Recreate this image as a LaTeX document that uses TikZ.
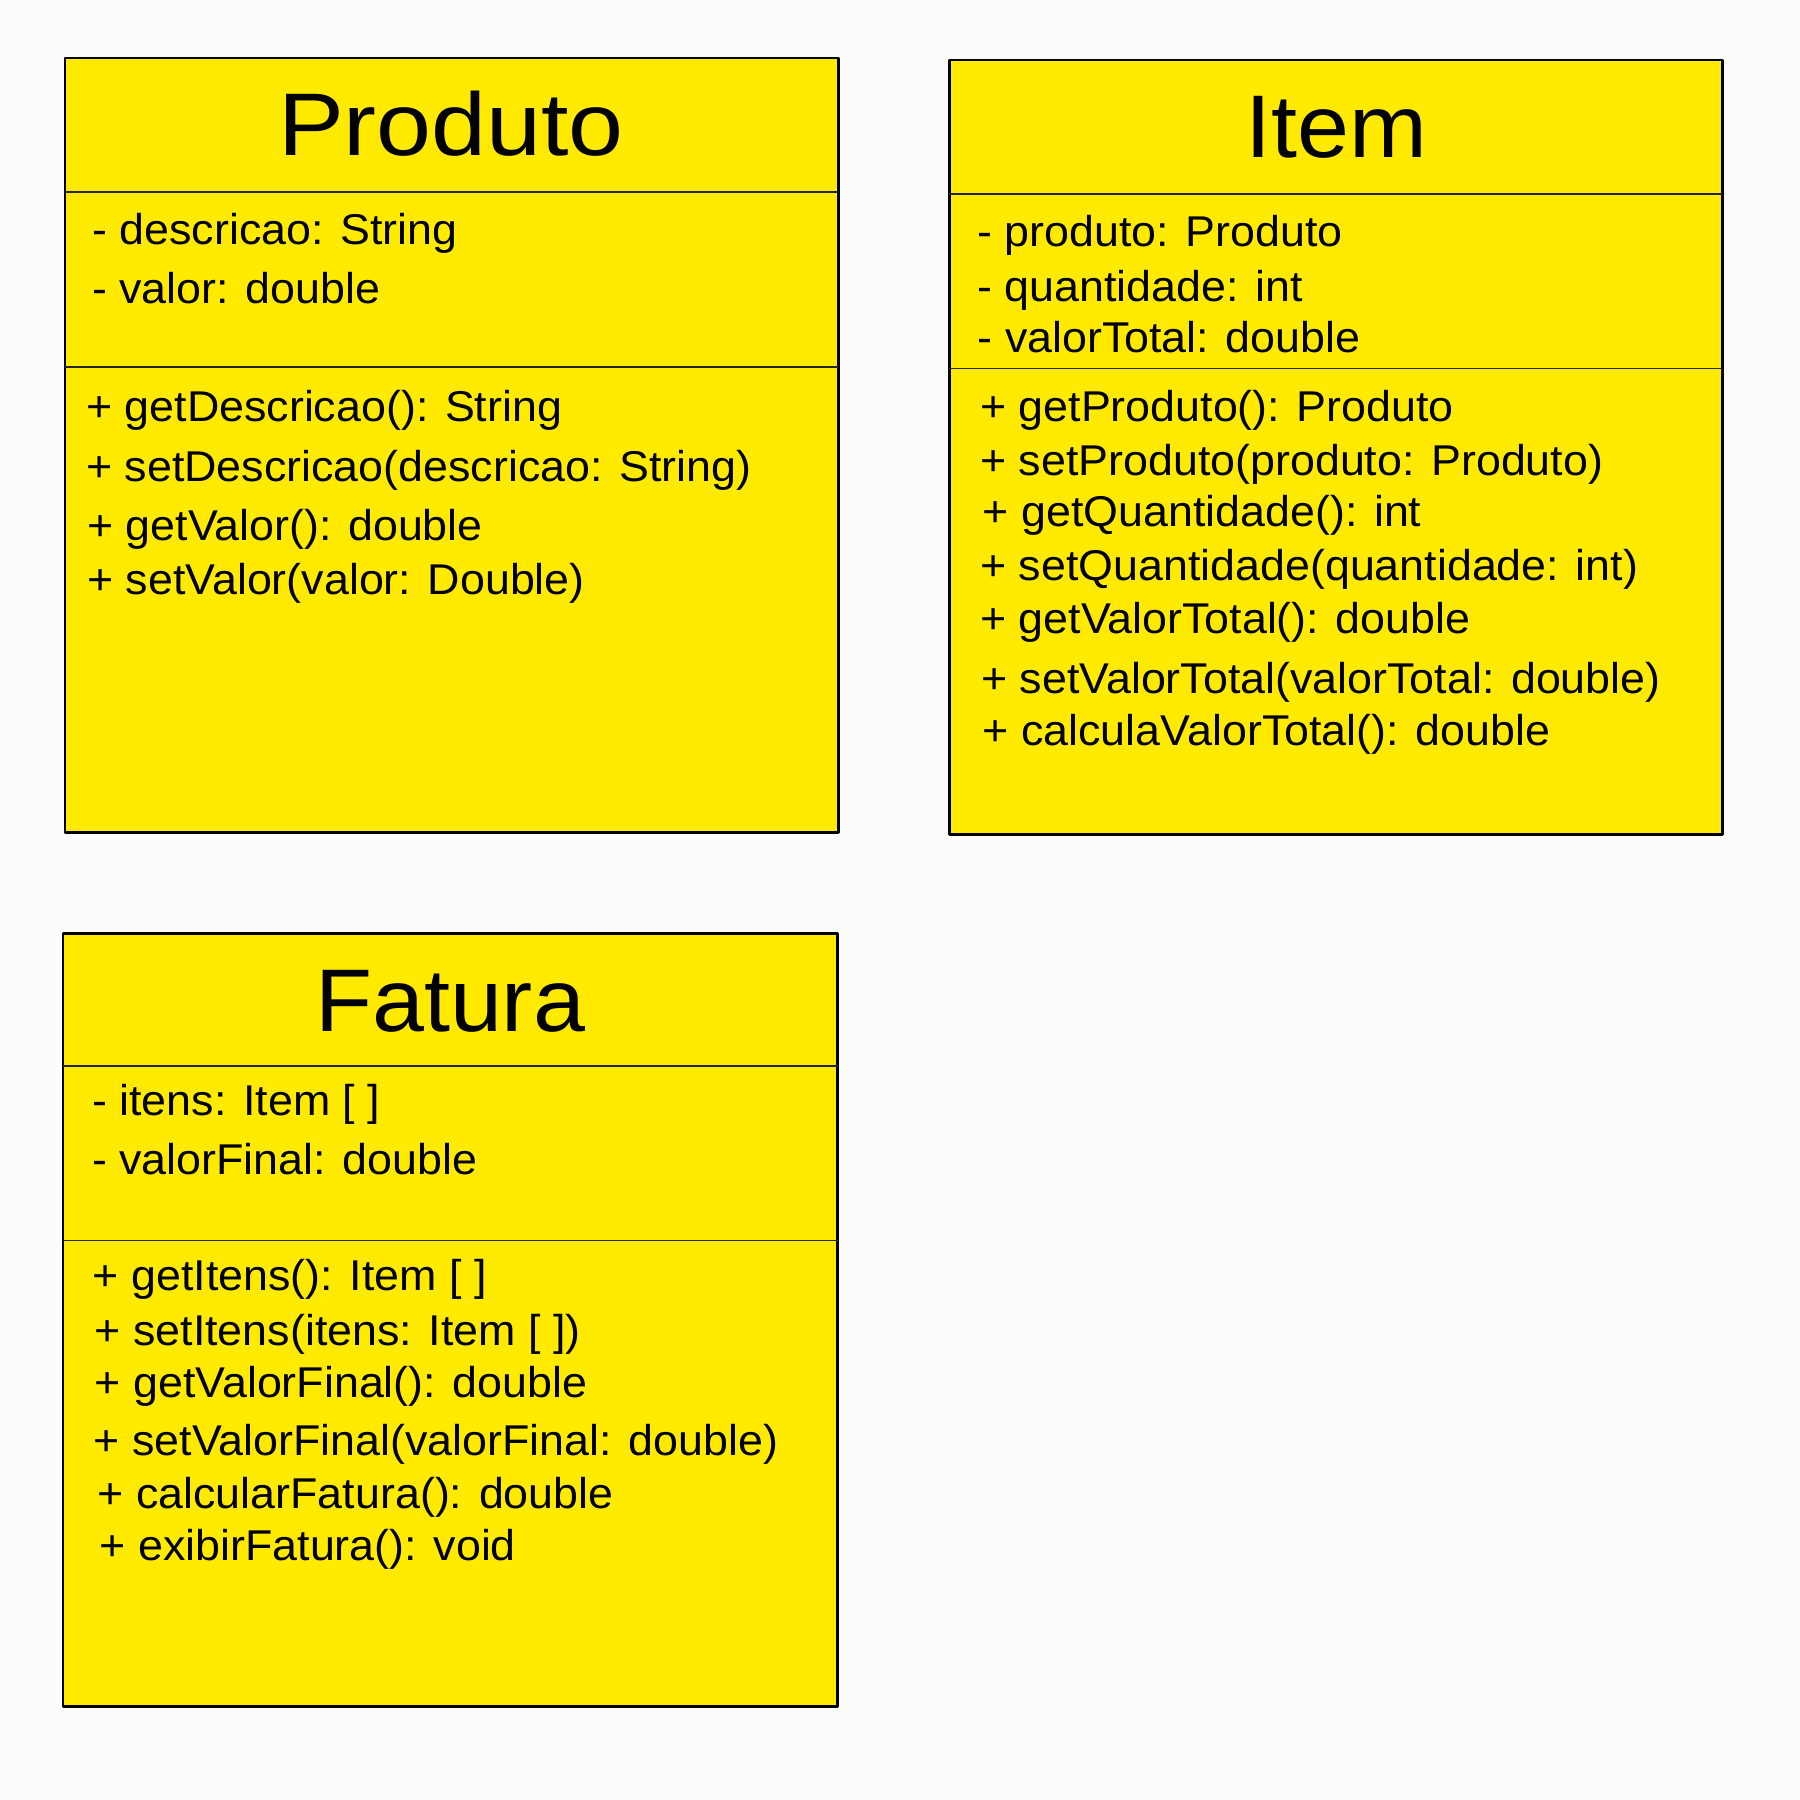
\documentclass[tikz,border=0pt]{standalone}
\usepackage{fontspec}
\setmainfont{Liberation Sans}
\newfontfamily\bodyfont[FakeStretch=1.04]{Liberation Sans}
\newfontfamily\titlefont[FakeStretch=1.05]{Liberation Sans}
\newfontfamily\widetitlefont[FakeStretch=1.11]{Liberation Sans}
\definecolor{umlyellow}{RGB}{255,234,0}
\definecolor{pagebg}{RGB}{252,252,252}
\tikzset{
  classbox/.style={fill=umlyellow, draw=black, line width=0.85pt, line join=round},
  sepline/.style={draw=black!85, line width=0.35pt},
  ctitle/.style={anchor=base, inner sep=0pt, font=\titlefont\fontsize{25.3pt}{30pt}\selectfont},
  widetitle/.style={ctitle, font=\widetitlefont\fontsize{25.3pt}{30pt}\selectfont},
  cline/.style={anchor=base west, inner sep=0pt, font=\bodyfont\fontsize{12.25pt}{15pt}\selectfont}
}
\begin{document}
\begin{tikzpicture}[x=0.01cm,y=-0.01cm]
\fill[pagebg] (0,0) rectangle (1800,1800);
\useasboundingbox (0,0) rectangle (1800,1800);

% ---------- Produto ----------
\filldraw[classbox] (65,58) rectangle (838,832);
\draw[sepline] (65,192) -- (838,192);
\draw[sepline] (65,367) -- (838,367);
\node[widetitle] (pt) at (451,156) {Produto};
\node[cline] (pa1) at (91.5,245) {- descricao: String};
\node[cline] (pa2) at (91.5,303) {- valor: double};
\node[cline] (pm1) at (85.5,421) {+ getDescricao(): String};
\node[cline] (pm2) at (85.5,481) {+ setDescricao(descricao: String)};
\node[cline] (pm3) at (86.5,540) {+ getValor(): double};
\node[cline] (pm4) at (86.5,594) {+ setValor(valor: Double)};

% ---------- Item ----------
\filldraw[classbox] (949,60) rectangle (1722,834);
\draw[sepline] (949,194) -- (1722,194);
\draw[sepline] (949,368.5) -- (1722,368.5);
\node[ctitle] (it) at (1336,158) {Item};
\node[cline] (ia1) at (976.5,247) {- produto: Produto};
\node[cline] (ia2) at (976.5,301) {- quantidade: int};
\node[cline] (ia3) at (977,352) {- valorTotal: double};
\node[cline] (im1) at (979.5,421) {+ getProduto(): Produto};
\node[cline] (im2) at (979.5,475) {+ setProduto(produto: Produto)};
\node[cline] (im3) at (982,526) {+ getQuantidade(): int};
\node[cline] (im4) at (979.5,580) {+ setQuantidade(quantidade: int)};
\node[cline] (im5) at (979.5,633) {+ getValorTotal(): double};
\node[cline] (im6) at (980.5,693) {+ setValorTotal(valorTotal: double)};
\node[cline] (im7) at (982,745) {+ calculaValorTotal(): double};

% ---------- Fatura ----------
\filldraw[classbox] (63,933) rectangle (837.5,1706.5);
\draw[sepline] (63,1066) -- (837.5,1066);
\draw[sepline] (63,1240.5) -- (837.5,1240.5);
\node[ctitle] (ft) at (450,1031) {Fatura};
\node[cline] (fa1) at (91.5,1115) {- itens: Item [ ]};
\node[cline] (fa2) at (91.5,1174) {- valorFinal: double};
\node[cline] (fm1) at (92,1290) {+ getItens(): Item [ ]};
\node[cline] (fm2) at (94,1345) {+ setItens(itens: Item [ ])};
\node[cline] (fm3) at (94,1397) {+ getValorFinal(): double};
\node[cline] (fm4) at (93,1455.5) {+ setValorFinal(valorFinal: double)};
\node[cline] (fm5) at (97,1508) {+ calcularFatura(): double};
\node[cline] (fm6) at (99,1560) {+ exibirFatura(): void};
\end{tikzpicture}
\end{document}
